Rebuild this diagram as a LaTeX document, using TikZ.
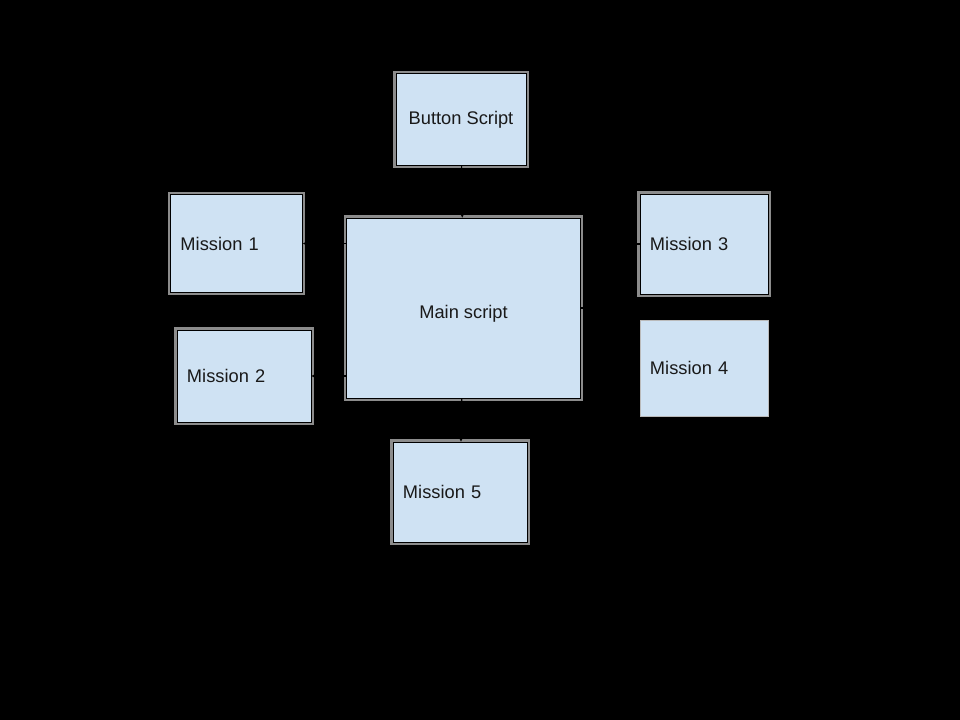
\documentclass[tikz,border=0pt]{standalone}
\usepackage{fontspec}
\setmainfont{Liberation Sans}
\definecolor{boxblue}{HTML}{CFE2F3}
\definecolor{bandgray}{HTML}{8C8C8C}
\tikzset{
	scriptbox/.style={draw=black, line width=0.5pt, fill=boxblue, inner sep=0pt,
		font=\fontsize{13}{15}\selectfont, text=black!90},
	missionbox/.style={scriptbox, align=left, inner xsep=0.25cm},
	band/.style={preaction={draw=bandgray, line width=4pt}},
	link/.style={draw=black, line width=0.8pt},
}
\begin{document}
\begin{tikzpicture}[x=0.025cm, y=-0.025cm, >=stealth]

	\fill[black] (0,0) rectangle (960,720);

	\node[scriptbox, band, minimum width=3.25cm, minimum height=2.3cm] (button) at (461,119.5) {Button Script};
	\node[scriptbox, band, minimum width=5.85cm, minimum height=4.5cm, text height=0.6cm] (main) at (463.5,308) {Main script};
	\node[missionbox, band, text width=2.8cm, minimum height=2.45cm] (m1) at (236.5,243.5) {Mission 1};
	\node[missionbox, band, text width=2.85cm, minimum height=2.3cm] (m2) at (244,376) {Mission 2};
	\node[missionbox, band, text width=2.7cm, minimum height=2.5cm] (m3) at (704,244) {Mission 3};
	\node[missionbox, draw=bandgray!60, text width=2.7cm, minimum height=2.4cm] (m4) at (704,368) {Mission 4};
	\node[missionbox, band, text width=2.85cm, minimum height=2.5cm] (m5) at (460,492) {Mission 5};

	\draw[link, ->] (button) -- (main);
	\draw[link, ->] (main.west |- m1.east) -- (m1.east);
	\draw[link, ->] (main.west |- m2.east) -- (m2.east);
	\draw[link, ->] (m3.west) -- ++(-30,0) |- (main.east);
	\draw[link] (m4.west) -- ++(-30,0) |- (main.east);
	\draw[link, ->] (main) -- (m5);
\end{tikzpicture}
\end{document}
